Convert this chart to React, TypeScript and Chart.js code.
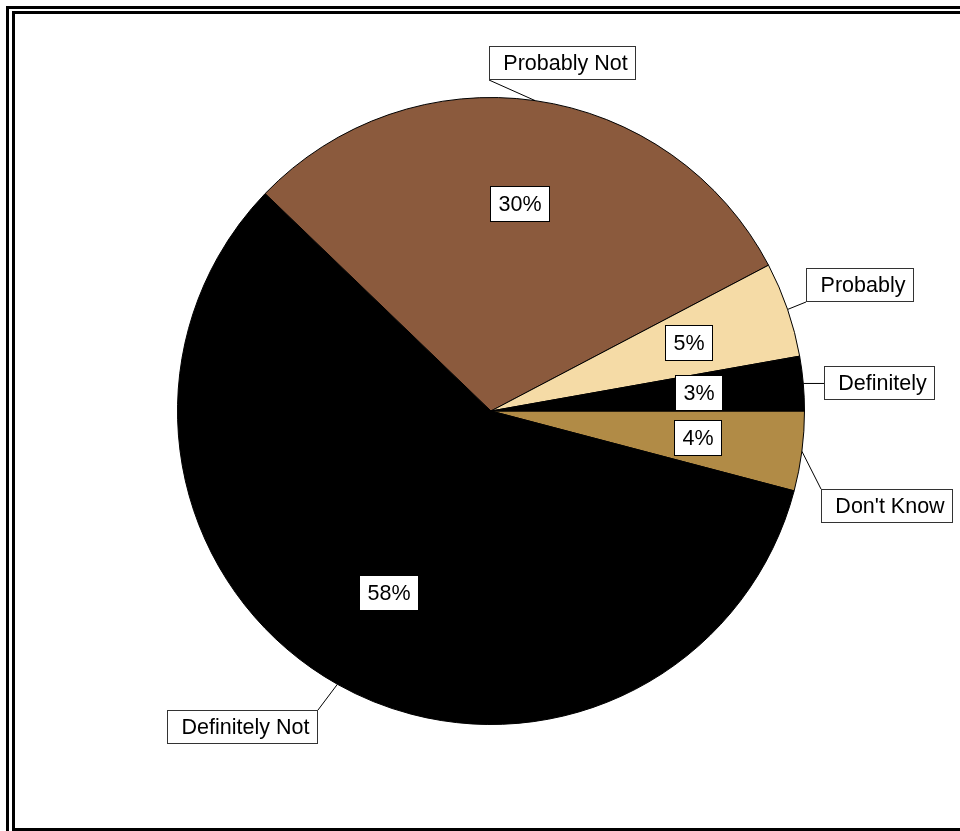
import React, { useEffect, useRef } from "react";
import { Chart, registerables } from "chart.js";

Chart.register(...registerables);

// Slices listed clockwise starting at 3 o'clock
const categories = ["Don't Know", "Definitely Not", "Probably Not", "Probably", "Definitely"];
const shares = [4.1, 58.1, 30.1, 4.9, 2.8];
const sliceColors = ["#B18B46", "#000000", "#8B5A3D", "#F5DBA6", "#000000"];

// Outer label box layout: radius factor (of pie radius) and angular shift (degrees) from slice middle
const outerLabelRadius = [1.3, 1.282, 1.133, 1.245, 1.244];
const outerLabelShift = [6.1, 8.8, 3.5, 0.1, 0.9];
const innerLabelRadius = 0.666;

const FONT = '21.5px "Liberation Sans", Arial, sans-serif';

function drawBox(
  ctx: CanvasRenderingContext2D,
  cx: number,
  cy: number,
  text: string,
  h: number,
  stroke: string
) {
  const w = Math.round(ctx.measureText(text).width + 17);
  const left = Math.round(cx - w / 2);
  const top = Math.round(cy - h / 2);
  ctx.fillStyle = "#ffffff";
  ctx.fillRect(left, top, w, h);
  ctx.strokeStyle = stroke;
  ctx.lineWidth = 1;
  ctx.strokeRect(left + 0.5, top + 0.5, w - 1, h - 1);
  ctx.fillStyle = "#000000";
  ctx.textAlign = "center";
  ctx.textBaseline = "middle";
  ctx.fillText(text, left + w / 2, top + h / 2 + 1);
  return { left, top, right: left + w, bottom: top + h };
}

const pieLabelPlugin = {
  id: "pieLabels",
  beforeDraw(chart: any) {
    const ctx: CanvasRenderingContext2D = chart.ctx;
    const W = chart.width;
    const H = chart.height;
    ctx.save();
    ctx.fillStyle = "#ffffff";
    ctx.fillRect(0, 0, W, H);
    ctx.fillStyle = "#000000";
    // outer frame line
    ctx.fillRect(6, 6, W, 3);
    ctx.fillRect(6, 6, 3, H);
    // inner frame line
    ctx.fillRect(12, 11, W, 3);
    ctx.fillRect(12, 11, 3, H);
    ctx.fillRect(12, H - 3, W, 3);
    ctx.restore();
  },
  afterDatasetsDraw(chart: any) {
    const ctx: CanvasRenderingContext2D = chart.ctx;
    const meta = chart.getDatasetMeta(0);
    const values: number[] = chart.data.datasets[0].data;
    const labels: string[] = chart.data.labels;
    ctx.save();
    ctx.font = FONT;
    meta.data.forEach((arc: any, i: number) => {
      const p = arc.getProps(["x", "y", "startAngle", "endAngle", "outerRadius"], true);
      const mid = (p.startAngle + p.endAngle) / 2;
      const R = p.outerRadius;
      // outer label
      const a = mid + (outerLabelShift[i] * Math.PI) / 180;
      const bx = p.x + Math.cos(a) * R * outerLabelRadius[i];
      const by = p.y + Math.sin(a) * R * outerLabelRadius[i];
      const text = " " + labels[i];
      const w = Math.round(ctx.measureText(text).width + 17);
      const h = 34;
      const left = Math.round(bx - w / 2);
      const top = Math.round(by - h / 2);
      const right = left + w;
      const bottom = top + h;
      const ex = p.x + Math.cos(mid) * R;
      const ey = p.y + Math.sin(mid) * R;
      const ax = Math.cos(mid) >= 0 ? left : right;
      const ay = Math.min(Math.max(ey, top), bottom);
      ctx.strokeStyle = "#000000";
      ctx.lineWidth = 1;
      ctx.beginPath();
      ctx.moveTo(ex, ey);
      ctx.lineTo(ax, ay);
      ctx.stroke();
      drawBox(ctx, bx, by, text, h, "#333333");
      // percentage label
      const ix = p.x + Math.cos(mid) * R * innerLabelRadius;
      const iy = p.y + Math.sin(mid) * R * innerLabelRadius;
      drawBox(ctx, ix, iy, Math.round(values[i]) + "%", 36, "#000000");
    });
    ctx.restore();
  },
};

export default function App() {
  const canvasRef = useRef<HTMLCanvasElement | null>(null);

  useEffect(() => {
    if (!canvasRef.current) return;
    const chart = new Chart(canvasRef.current, {
      type: "pie",
      data: {
        labels: categories,
        datasets: [
          {
            data: shares,
            backgroundColor: sliceColors,
            borderColor: "#000000",
            borderWidth: 1,
            hoverOffset: 0,
            offset: 0,
          },
        ],
      },
      options: {
        responsive: false,
        animation: false,
        devicePixelRatio: 1,
        rotation: 90,
        layout: { padding: { left: 177, right: 155, top: 97, bottom: 106 } },
        plugins: {
          legend: { display: false },
          tooltip: { enabled: false },
          title: { display: false },
        },
        events: [],
      },
      plugins: [pieLabelPlugin],
    } as any);
    return () => chart.destroy();
  }, []);

  return (
    <div style={{ position: "absolute", left: 0, top: 0, width: 960, height: 831 }}>
      <canvas ref={canvasRef} width={960} height={831} style={{ display: "block" }} />
    </div>
  );
}
